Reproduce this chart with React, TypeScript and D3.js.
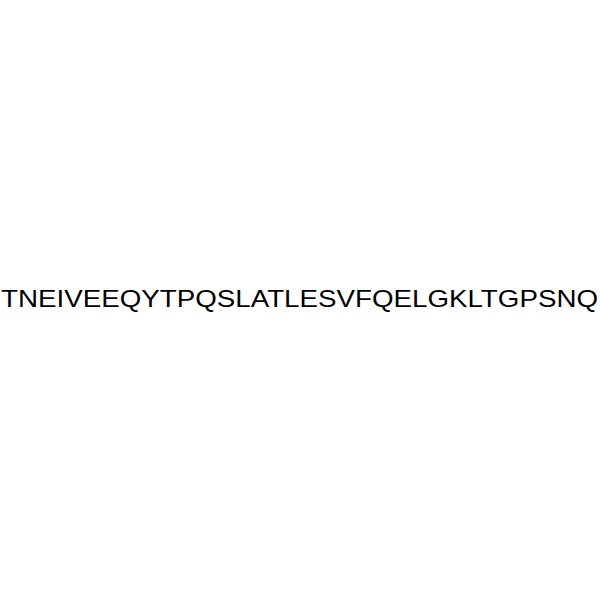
import * as React from "react";
import * as d3 from "d3";

// Peptide sequence, one residue per entry
const residues: string[] = "TNEIVEEQYTPQSLATLESVFQELGKLTGPSNQ".split("");

const width = 600;
const height = 600;

export default function App() {
    // Horizontal extent of the sequence label
    let x = d3.scaleLinear().domain([0, 1]).range([1, 598]);
    let baseline = 307;

    return (
        <svg width={width} height={height} style={{ position: "absolute", left: 0, top: 0, background: "#fff" }}>
            <text
                x={x(0)}
                y={baseline}
                fontFamily="Liberation Sans, Arial, sans-serif"
                fontSize={24.5}
                fill="#000"
                textLength={x(1) - x(0)}
                lengthAdjust="spacingAndGlyphs"
            >
                {residues.join("")}
            </text>
        </svg>
    );
}
